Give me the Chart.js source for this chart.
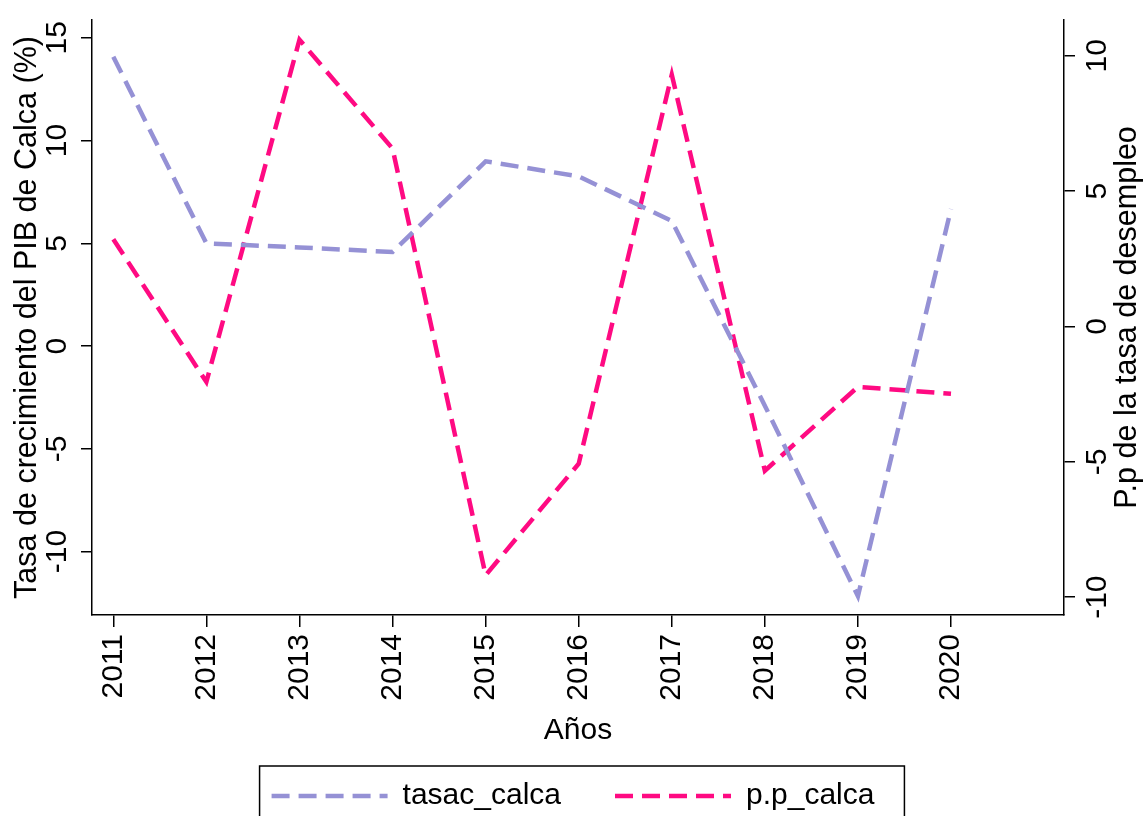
<!DOCTYPE html>
<html><head><meta charset="utf-8">
<script src="https://cdn.jsdelivr.net/npm/chart.js@4"></script>
<style>html,body{margin:0;padding:0;background:#fff}</style>
</head><body>
<canvas id="c" width="1146" height="816"></canvas>
<script>
const years = [2011, 2012, 2013, 2014, 2015, 2016, 2017, 2018, 2019, 2020];
const tasacCalca = [14.08, 5.0, 4.8, 4.58, 8.99, 8.26, 6.09, -2.9, -12.17, 6.67];
const ppCalca = [3.22, -2.05, 10.59, 6.57, -9.19, -5.07, 9.3, -5.33, -2.23, -2.49];
const xTicks = [2011, 2012, 2013, 2014, 2015, 2016, 2017, 2018, 2019, 2020];
const leftTicks = [-10, -5, 0, 5, 10, 15];
const rightTicks = [-10, -5, 0, 5, 10];
const seriesNames = ['tasac_calca', 'p.p_calca'];
const xTitle = 'Años';
const leftTitle = 'Tasa de crecimiento del PIB de Calca (%)';
const rightTitle = 'P.p de la tasa de desempleo';

const FONT = '"Liberation Sans", Arial, Helvetica, sans-serif';
const DASH = [18, 9];
Chart.defaults.font.family = FONT;
Chart.defaults.color = '#000';

const rightTitlePlugin = {
  id: 'rightTitle',
  afterDraw(chart) {
    const s = chart.scales.y1;
    const ctx = chart.ctx;
    ctx.save();
    ctx.translate(s.right - 18, (s.top + s.bottom) / 2);
    ctx.rotate(-Math.PI / 2);
    ctx.font = '30.5px ' + FONT;
    ctx.fillStyle = '#000';
    ctx.textAlign = 'center';
    ctx.textBaseline = 'middle';
    ctx.fillText(rightTitle, 0, 0);
    ctx.restore();
  }
};
const legendBoxPlugin = {
  id: 'legendBox',
  afterDraw(chart) {
    const hb = chart.legend.legendHitBoxes;
    if (!hb || !hb.length) return;
    const last = hb[hb.length - 1];
    const l = hb[0].left - 12, r = last.left + last.width + 30;
    const t = hb[0].top - 15;
    const ctx = chart.ctx;
    ctx.save();
    ctx.strokeStyle = '#000';
    ctx.lineWidth = 1.5;
    ctx.strokeRect(l, t, r - l, 80);
    ctx.restore();
  }
};

const mk = (arr) => years.map((y, i) => ({x: y, y: arr[i]}));

new Chart(document.getElementById('c'), {
  type: 'line',
  data: {
    datasets: [
      { label: seriesNames[0], data: mk(tasacCalca), yAxisID: 'y',
        borderColor: '#9591D5', backgroundColor: '#9591D5', borderWidth: 4.5,
        borderDash: DASH, pointRadius: 0, tension: 0, fill: false },
      { label: seriesNames[1], data: mk(ppCalca), yAxisID: 'y1',
        borderColor: '#FF0A82', backgroundColor: '#FF0A82', borderWidth: 4.5,
        borderDash: DASH, pointRadius: 0, tension: 0, fill: false }
    ]
  },
  options: {
    responsive: false, animation: false, devicePixelRatio: 1,
    layout: { padding: { top: 15, left: 0, right: 0, bottom: -5 } },
    plugins: {
      legend: { position: 'bottom', align: 'center',
        labels: { usePointStyle: true, pointStyle: 'line', pointStyleWidth: 116,
          padding: 54, color: '#000', font: { size: 30 },
          generateLabels: (chart) => {
            const items = Chart.defaults.plugins.legend.labels.generateLabels(chart);
            items.forEach(it => { it.lineDash = DASH; it.lineWidth = 4.5; it.lineCap = 'butt'; });
            return items;
          } } },
      tooltip: { enabled: false }
    },
    scales: {
      x: { type: 'linear', position: 'bottom', min: 2010.771, max: 2021.214,
        afterBuildTicks: s => { s.ticks = xTicks.map(v => ({ value: v })); },
        afterFit: s => { s.height = 112; },
        ticks: { autoSkip: false, minRotation: 90, maxRotation: 90, padding: 7, color: '#000',
          font: { size: 30 }, callback: v => String(v) },
        grid: { drawOnChartArea: false, drawTicks: true, tickLength: 12, color: '#000', lineWidth: 1.5 },
        border: { display: true, color: '#000', width: 1.5 },
        title: { display: true, text: xTitle, color: '#000', font: { size: 30 }, padding: { top: 0, bottom: -22 } }
      },
      y: { type: 'linear', position: 'left', min: -13.089, max: 15.869,
        afterBuildTicks: s => { s.ticks = leftTicks.map(v => ({ value: v })); },
        afterFit: s => { s.width = 92; },
        ticks: { minRotation: 90, maxRotation: 90, crossAlign: 'center', padding: 2, color: '#000',
          font: { size: 30 }, callback: v => String(v) },
        grid: { drawOnChartArea: false, drawTicks: true, tickLength: 11, color: '#000', lineWidth: 1.5 },
        border: { display: true, color: '#000', width: 1.5 },
        title: { display: true, text: leftTitle, color: '#000', font: { size: 30.5 }, padding: { top: 9.5, bottom: 0 } }
      },
      y1: { type: 'linear', position: 'right', min: -10.659, max: 11.319,
        afterBuildTicks: s => { s.ticks = rightTicks.map(v => ({ value: v })); },
        afterFit: s => { s.width = 82; },
        ticks: { minRotation: 90, maxRotation: 90, crossAlign: 'center', padding: 1.5, color: '#000',
          font: { size: 30 }, callback: v => String(v) },
        grid: { drawOnChartArea: false, drawTicks: true, tickLength: 11, color: '#000', lineWidth: 1.5 },
        border: { display: true, color: '#000', width: 1.5 },
        title: { display: false }
      }
    }
  },
  plugins: [rightTitlePlugin, legendBoxPlugin]
});
</script>
</body></html>
